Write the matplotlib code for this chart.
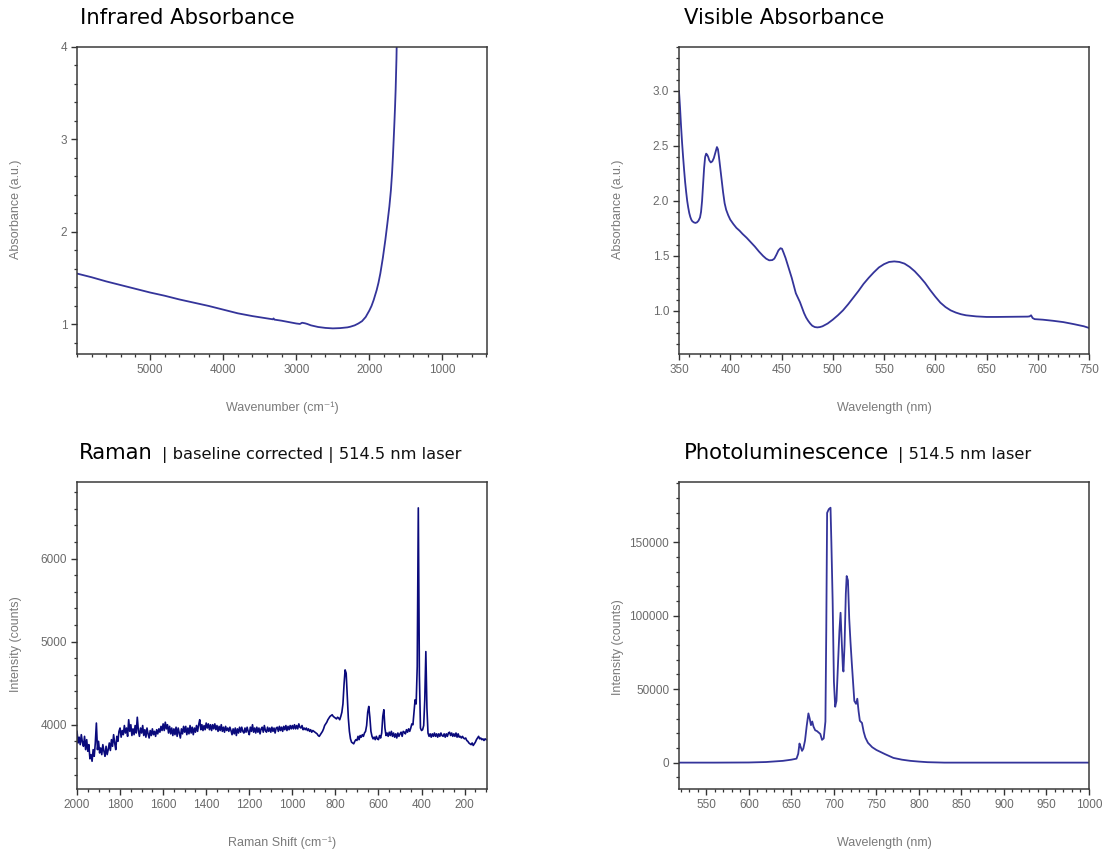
import numpy as np
import matplotlib
matplotlib.use("Agg")
import matplotlib.pyplot as plt
from matplotlib.ticker import MultipleLocator, FixedLocator, FormatStrFormatter

# ---------------- data ----------------
ir_wavenumber = [6000, 5800, 5600, 5400, 5200, 5000, 4800, 4600, 4400, 4200, 4000,
                 3800, 3600, 3400, 3320, 3310, 3300, 3200, 3000, 2950, 2920, 2880,
                 2850, 2800, 2700, 2600, 2500, 2400, 2300, 2260, 2200, 2150, 2100,
                 2050, 2000, 1970, 1941, 1900, 1875, 1849, 1815, 1781, 1755, 1726,
                 1705, 1689, 1677, 1667, 1657, 1648, 1640, 1634, 1629, 1626, 1620]
ir_absorb = [1.55, 1.51, 1.465, 1.425, 1.385, 1.345, 1.31, 1.27, 1.235, 1.20, 1.16,
             1.12, 1.09, 1.065, 1.055, 1.065, 1.052, 1.04, 1.01, 1.005, 1.018, 1.012,
             1.005, 0.99, 0.972, 0.962, 0.957, 0.96, 0.968, 0.975, 0.99, 1.01, 1.035,
             1.08, 1.15, 1.20, 1.263, 1.37, 1.45, 1.553, 1.72, 1.913, 2.08, 2.274,
             2.45, 2.636, 2.82, 2.997, 3.18, 3.357, 3.54, 3.72, 3.87, 4.0, 4.2]

vis_wavelength = [350, 351, 352, 353, 354, 355, 356, 357, 358, 359, 360, 361, 362, 363,
                  364.5, 366, 367.5, 369, 370.5, 371.5, 372.5, 373.5, 374.5, 375.5,
                  376.5, 377.5, 378.5, 379.5, 381, 382.5, 384, 385.5, 387, 388, 389,
                  390, 391.5, 393, 394.5, 396, 398, 400, 403, 406, 409, 412, 416, 420,
                  424, 428, 432, 435, 438, 441, 443, 445, 447, 449, 450.5, 452, 454,
                  456, 458, 460, 462, 464, 466, 468, 470, 472, 474, 476, 478, 480,
                  482.5, 485, 487.5, 490, 495, 500, 505, 510, 515, 520, 525, 530, 535,
                  540, 545, 550, 555, 560, 565, 570, 575, 580, 585, 590, 595, 600, 605,
                  610, 615, 620, 625, 630, 640, 650, 660, 670, 680, 690, 692, 693.5,
                  695, 697, 705, 715, 725, 735, 745, 750]
vis_absorb = [3.0, 2.85, 2.68, 2.53, 2.40, 2.28, 2.17, 2.08, 2.0, 1.94, 1.89, 1.855,
              1.83, 1.815, 1.805, 1.80, 1.805, 1.82, 1.85, 1.90, 2.0, 2.15, 2.30, 2.40,
              2.43, 2.42, 2.40, 2.37, 2.35, 2.36, 2.39, 2.44, 2.49, 2.47, 2.40, 2.32,
              2.20, 2.08, 1.98, 1.92, 1.87, 1.83, 1.79, 1.755, 1.73, 1.70, 1.665, 1.625,
              1.585, 1.54, 1.50, 1.475, 1.46, 1.462, 1.475, 1.51, 1.55, 1.57, 1.565,
              1.53, 1.48, 1.42, 1.36, 1.30, 1.23, 1.16, 1.12, 1.08, 1.03, 0.98, 0.94,
              0.91, 0.885, 0.865, 0.853, 0.85, 0.853, 0.86, 0.885, 0.92, 0.96, 1.005,
              1.06, 1.12, 1.18, 1.245, 1.30, 1.35, 1.395, 1.425, 1.445, 1.45, 1.445,
              1.43, 1.40, 1.36, 1.31, 1.255, 1.19, 1.13, 1.075, 1.035, 1.005, 0.985,
              0.97, 0.96, 0.95, 0.945, 0.945, 0.946, 0.947, 0.948, 0.95, 0.96, 0.935,
              0.925, 0.92, 0.91, 0.898, 0.88, 0.86, 0.845]

raman_shift = np.arange(2000, 95, -5)
raman_counts = [
    3920, 3780, 3850, 3760, 3880, 3790, 3740, 3860, 3700, 3820, 3680, 3760, 3590, 3640, 3560, 3700, 3620, 3780, 4020, 3700,
    3800, 3660, 3720, 3640, 3760, 3680, 3620, 3740, 3640, 3700, 3780, 3690, 3820, 3740, 3880, 3780, 3700, 3860, 3800, 3920,
    3960, 3850, 3930, 3880, 3990, 3900, 3960, 3860, 4060, 3920, 4000, 3870, 3950, 3880, 3990, 3900, 4090, 3930, 3860, 3960,
    3900, 3990, 3870, 3940, 3850, 3960, 3890, 3840, 3930, 3870, 3950, 3880, 3920, 3860, 3940, 3890, 3950, 3910, 3980, 3930,
    4010, 3930, 4030, 3950, 4000, 3900, 3980, 3890, 3960, 3870, 3950, 3880, 3970, 3860, 3960, 3900, 3840, 3950, 3890, 3980,
    3910, 3980, 3880, 3960, 3890, 3990, 3900, 3970, 3880, 3960, 3910, 3990, 3920, 4000, 4060, 3940, 4000, 3930, 3990, 3940,
    4020, 3960, 4010, 3940, 4000, 3930, 4000, 3950, 4010, 3940, 3990, 3920, 3980, 3930, 4000, 3920, 3970, 3910, 3980, 3930,
    3960, 3920, 3970, 3930, 3880, 3950, 3890, 3960, 3870, 3950, 3900, 3970, 3910, 3970, 3920, 3900, 3960, 3910, 3970, 3920,
    3880, 3970, 3920, 4000, 3910, 3960, 3900, 3970, 3910, 3960, 3890, 3950, 3970, 3910, 3990, 3930, 3910, 3970, 3920, 3960,
    3910, 3970, 3920, 3960, 3900, 3960, 3970, 3920, 3980, 3930, 3970, 3920, 3980, 3940, 3990, 3930, 3980, 3940, 3990, 3950,
    3990, 3950, 4000, 3950, 3990, 3950, 4010, 3970, 3960, 3990, 3940, 3960, 3940, 3960, 3930, 3950, 3920, 3940, 3910, 3930,
    3920, 3910, 3900, 3890, 3870, 3860, 3880, 3900, 3920, 3950, 3990, 4010, 4030, 4060, 4080, 4100, 4110, 4120, 4100, 4090,
    4080, 4070, 4090, 4080, 4060, 4100, 4150, 4250, 4480, 4660, 4620, 4350, 4080, 3920, 3830, 3790, 3780, 3770, 3800, 3820,
    3810, 3860, 3820, 3870, 3850, 3880, 3860, 3900, 3920, 3990, 4150, 4220, 4090, 3920, 3860, 3830, 3850, 3820, 3860, 3830,
    3820, 3870, 3840, 3900, 4100, 4180, 3960, 3870, 3900, 3860, 3910, 3870, 3920, 3860, 3900, 3850, 3890, 3840, 3900, 3860,
    3890, 3910, 3860, 3920, 3910, 3890, 3940, 3910, 3950, 3920, 3960, 4010, 4000, 4150, 4300, 4250, 4700, 6610, 4600, 3960,
    3930, 3940, 3990, 4300, 4880, 4200, 3900, 3860, 3890, 3850, 3890, 3860, 3900, 3860, 3890, 3850, 3890, 3860, 3900, 3870,
    3860, 3890, 3850, 3890, 3860, 3900, 3910, 3870, 3900, 3860, 3890, 3860, 3900, 3850, 3890, 3850, 3860, 3840, 3860, 3840,
    3830, 3840, 3810, 3800, 3780, 3770, 3760, 3780, 3750, 3770, 3790, 3820, 3840, 3860, 3830, 3840, 3820, 3830, 3810, 3830,
    3820]

pl_wavelength = [518, 560, 600, 620, 640, 650, 656, 658, 659.5, 661, 662.5, 664, 666,
                 668, 670, 671.5, 673, 674.5, 676, 678, 680, 682, 684, 686, 688, 690,
                 691, 692, 694, 696, 697, 698.5, 700, 701.5, 703, 705, 706.5, 707.8,
                 709, 710.5, 711.2, 712.5, 714, 715, 716.5, 718, 719.5, 721, 722.5,
                 724, 726, 727.5, 729, 730.5, 733, 735, 737, 740, 745, 750, 760, 770,
                 780, 790, 800, 810, 830, 1000]
pl_counts = [0, 0, 100, 400, 1200, 2000, 2700, 6000, 13000, 10500, 8000, 9500, 15000,
             25000, 33500, 30000, 25500, 28000, 24500, 22000, 21500, 20500, 19500, 15500,
             16500, 28000, 90000, 170000, 172500, 173500, 150000, 110000, 55000, 38000,
             42000, 70000, 90000, 102000, 85000, 65000, 62000, 80000, 115000, 127000,
             124000, 98000, 82000, 68000, 55000, 42000, 40000, 43500, 35000, 28500,
             27000, 21000, 17000, 13500, 10500, 8600, 5800, 3200, 2000, 1200, 700, 300,
             0, 0]

# ---------------- style ----------------
W, H = 1106, 855
fig = plt.figure(figsize=(W / 100, H / 100), dpi=100)

TICK_FONT = ['Liberation Sans', 'DejaVu Sans']
TITLE_FONT = ['DejaVu Sans']
line_col = '#34349a'
raman_col = '#0a0a7c'
tick_lab_col = '#6a6a6a'
axlab_col = '#7a7a7a'


def make_ax(left, top):
    ax = fig.add_axes([left / W, 1 - (top + 307) / H, 410 / W, 307 / H])
    for s in ax.spines.values():
        s.set_color('#3a3a3a')
        s.set_linewidth(1.1)
    ax.tick_params(which='both', direction='out', colors='#333333',
                   labelcolor=tick_lab_col, labelsize=8.5, top=False, right=False)
    ax.tick_params(which='major', length=4, width=1.0, pad=3)
    ax.tick_params(which='minor', length=2.5, width=0.9)
    return ax


def set_labels(ax, xlabel, ylabel, ylab_y):
    ax.set_xlabel(xlabel, fontsize=9, color=axlab_col, family=TICK_FONT)
    ax.xaxis.set_label_coords(0.5, -54 / 307)
    ax.xaxis.label.set_va('center')
    ax.set_ylabel(ylabel, fontsize=9, color=axlab_col, family=TICK_FONT)
    ax.yaxis.set_label_coords(-61 / 410, ylab_y)
    ax.yaxis.label.set_va('center')
    for lab in ax.get_xticklabels() + ax.get_yticklabels():
        lab.set_family(TICK_FONT)


# ---- IR ----
ax1 = make_ax(77, 47)
ax1.plot(ir_wavenumber, ir_absorb, color=line_col, lw=1.3)
ax1.set_xlim(6000, 390)
ax1.set_ylim(0.68, 4.0)
ax1.xaxis.set_major_locator(FixedLocator([5000, 4000, 3000, 2000, 1000]))
ax1.xaxis.set_minor_locator(MultipleLocator(200))
ax1.yaxis.set_major_locator(MultipleLocator(1))
ax1.yaxis.set_minor_locator(MultipleLocator(0.2))
set_labels(ax1, 'Wavenumber (cm\u207b\u00b9)', 'Absorbance (a.u.)', 0.47)

# ---- Visible ----
ax2 = make_ax(679, 47)
ax2.plot(vis_wavelength, vis_absorb, color=line_col, lw=1.3)
ax2.set_xlim(350, 750)
ax2.set_ylim(0.608, 3.40)
ax2.xaxis.set_major_locator(MultipleLocator(50))
ax2.xaxis.set_minor_locator(MultipleLocator(10))
ax2.yaxis.set_major_locator(MultipleLocator(0.5))
ax2.yaxis.set_minor_locator(MultipleLocator(0.1))
ax2.yaxis.set_major_formatter(FormatStrFormatter('%.1f'))
set_labels(ax2, 'Wavelength (nm)', 'Absorbance (a.u.)', 0.47)

# ---- Raman ----
ax3 = make_ax(77, 482)
ax3.plot(raman_shift, raman_counts, color=raman_col, lw=1.2)
ax3.set_xlim(2000, 96)
ax3.set_ylim(3226, 6922)
ax3.xaxis.set_major_locator(MultipleLocator(200))
ax3.xaxis.set_minor_locator(MultipleLocator(50))
ax3.yaxis.set_major_locator(MultipleLocator(1000))
ax3.yaxis.set_minor_locator(MultipleLocator(200))
set_labels(ax3, 'Raman Shift (cm\u207b\u00b9)', 'Intensity (counts)', 0.472)

# ---- PL ----
ax4 = make_ax(679, 482)
ax4.plot(pl_wavelength, pl_counts, color=line_col, lw=1.3)
ax4.set_xlim(517.8, 1000)
ax4.set_ylim(-17955, 191000)
ax4.xaxis.set_major_locator(MultipleLocator(50))
ax4.xaxis.set_minor_locator(MultipleLocator(10))
ax4.yaxis.set_major_locator(MultipleLocator(50000))
ax4.yaxis.set_minor_locator(MultipleLocator(10000))
set_labels(ax4, 'Wavelength (nm)', 'Intensity (counts)', 0.463)

# ---------------- titles ----------------
renderer = fig.canvas.get_renderer()


def title(x, y, main, sub=None):
    t = fig.text(x / W, 1 - y / H, main, fontsize=15.2, family=TITLE_FONT,
                 color='black', va='baseline', ha='left')
    if sub:
        bb = t.get_window_extent(renderer=renderer)
        fig.text((bb.x1 + 9) / W, 1 - y / H, sub, fontsize=11.7, family=TITLE_FONT,
                 color='#111111', va='baseline', ha='left')


title(80, 24, 'Infrared Absorbance')
title(684, 24, 'Visible Absorbance')
title(79, 459, 'Raman', '| baseline corrected | 514.5 nm laser')
title(684, 459, 'Photoluminescence', '| 514.5 nm laser')

fig.savefig('out.png', dpi=100, facecolor='white')
